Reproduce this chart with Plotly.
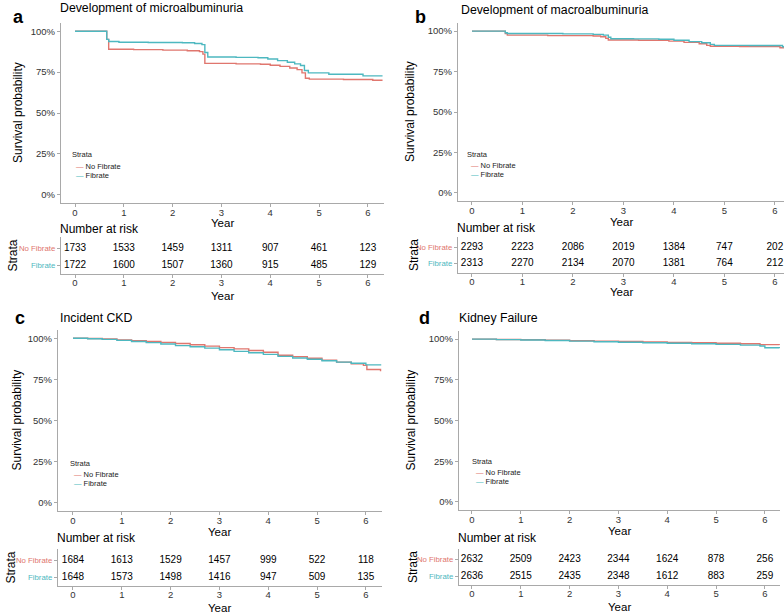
import plotly.graph_objects as go

W, H = 784, 615
RED = "#E0766E"
CYAN = "#4DB8C0"
AXIS = "#a9a9a9"
FONT = "Liberation Sans, Arial, sans-serif"

groups = ["No Fibrate", "Fibrate"]
years = [0, 1, 2, 3, 4, 5, 6]
pct_ticks = [0, 0.25, 0.5, 0.75, 1.0]
pct_labels = ["0%", "25%", "50%", "75%", "100%"]

# --- a: microalbuminuria
a_title = "Development of microalbuminuria"
a_t_nofib = [0, 0.65, 0.69, 1.2, 1.8, 2.3, 2.55, 2.62, 2.66, 3.3, 3.8, 4.0, 4.2, 4.4, 4.55, 4.65, 4.72, 4.8, 5.5, 6.1, 6.3]
a_s_nofib = [1.0, 0.95, 0.89, 0.887, 0.884, 0.88, 0.875, 0.86, 0.803, 0.80, 0.798, 0.792, 0.785, 0.775, 0.765, 0.745, 0.712, 0.707, 0.705, 0.70, 0.70]
a_t_fib = [0, 0.65, 0.69, 0.9, 1.5, 2.2, 2.45, 2.6, 2.66, 2.72, 3.3, 3.75, 3.95, 4.15, 4.35, 4.5, 4.62, 4.7, 4.78, 5.2, 5.9, 6.3]
a_s_fib = [1.0, 0.95, 0.937, 0.932, 0.931, 0.929, 0.925, 0.918, 0.87, 0.842, 0.84, 0.838, 0.83, 0.82, 0.81, 0.80, 0.79, 0.76, 0.745, 0.737, 0.727, 0.727]
a_risk_nofib = [1733, 1533, 1459, 1311, 907, 461, 123]
a_risk_fib = [1722, 1600, 1507, 1360, 915, 485, 129]

# --- b: macroalbuminuria
b_title = "Development of macroalbuminuria"
b_t_nofib = [0, 0.66, 0.7, 1.5, 2.4, 2.55, 2.65, 2.7, 3.3, 3.9, 4.2, 4.5, 4.65, 4.72, 5.3, 6.1, 6.35]
b_s_nofib = [1.0, 0.985, 0.975, 0.972, 0.97, 0.965, 0.955, 0.945, 0.943, 0.938, 0.93, 0.922, 0.912, 0.906, 0.905, 0.897, 0.897]
b_t_fib = [0, 0.66, 0.7, 1.8, 2.4, 2.6, 2.7, 2.75, 3.2, 3.7, 4.0, 4.3, 4.55, 4.72, 4.8, 5.5, 6.15, 6.35]
b_s_fib = [1.0, 0.99, 0.985, 0.983, 0.98, 0.975, 0.962, 0.953, 0.952, 0.95, 0.943, 0.935, 0.928, 0.918, 0.912, 0.911, 0.903, 0.903]
b_risk_nofib = [2293, 2223, 2086, 2019, 1384, 747, 202]
b_risk_fib = [2313, 2270, 2134, 2070, 1381, 764, 212]

# --- c: incident CKD
c_title = "Incident CKD"
c_t_nofib = [0, 0.3, 0.6, 0.9, 1.2, 1.5, 1.8, 2.1, 2.4, 2.7, 3.0, 3.3, 3.6, 3.9, 4.2, 4.5, 4.8, 5.1, 5.4, 5.7, 5.95, 6.02, 6.3]
c_s_nofib = [1.0, 0.998, 0.995, 0.99, 0.985, 0.98, 0.975, 0.968, 0.96, 0.952, 0.943, 0.935, 0.925, 0.915, 0.897, 0.888, 0.878, 0.867, 0.855, 0.845, 0.835, 0.81, 0.80]
c_t_fib = [0, 0.3, 0.6, 0.9, 1.2, 1.5, 1.8, 2.1, 2.4, 2.7, 3.0, 3.3, 3.6, 3.9, 4.2, 4.5, 4.8, 5.1, 5.4, 5.7, 6.0, 6.3]
c_s_fib = [1.0, 0.997, 0.993, 0.987, 0.98, 0.973, 0.965, 0.955, 0.948, 0.94, 0.93, 0.92, 0.912, 0.902, 0.89, 0.88, 0.872, 0.863, 0.855, 0.848, 0.838, 0.835]
c_risk_nofib = [1684, 1613, 1529, 1457, 999, 522, 118]
c_risk_fib = [1648, 1573, 1498, 1416, 947, 509, 135]

# --- d: kidney failure
d_title = "Kidney Failure"
d_t_nofib = [0, 0.5, 1.0, 1.5, 2.0, 2.5, 3.0, 3.5, 4.0, 4.5, 5.0, 5.5, 5.9, 6.3]
d_s_nofib = [1.0, 0.998, 0.996, 0.993, 0.99, 0.988, 0.986, 0.983, 0.98, 0.978, 0.975, 0.972, 0.966, 0.965]
d_t_fib = [0, 0.5, 1.0, 1.5, 2.0, 2.5, 3.0, 3.5, 4.0, 4.5, 5.0, 5.5, 5.9, 6.0, 6.3]
d_s_fib = [1.0, 0.997, 0.995, 0.992, 0.988, 0.984, 0.981, 0.978, 0.975, 0.972, 0.968, 0.963, 0.958, 0.947, 0.945]
d_risk_nofib = [2632, 2509, 2423, 2344, 1624, 878, 256]
d_risk_fib = [2636, 2515, 2435, 2348, 1612, 883, 259]


def px_x(p):
    return p / W


def px_y(p):
    return 1 - p / H


# pixel layout of each panel (left, right, km top/bottom, table top/bottom, x range, table y range)
panels = [
    dict(letter="a", title=a_title, data=(a_t_nofib, a_s_nofib, a_t_fib, a_s_fib), risk=(a_risk_nofib, a_risk_fib),
         left=61, right=384, km=(23, 203), tab=(237, 274), xr=[-0.287, 6.33], tyr=[0.47, 2.65],
         letter_xy=(11, 17), title_xy=(58, 8), ylab_x=18, strata_x=12, legend_xy=(70, 155),
         year1=223, year2=296, nar=229),
    dict(letter="b", title=b_title, data=(b_t_nofib, b_s_nofib, b_t_fib, b_s_fib), risk=(b_risk_nofib, b_risk_fib),
         left=458, right=784, km=(23, 201), tab=(237, 273), xr=[-0.277, 6.18], tyr=[0.375, 2.625],
         letter_xy=(413, 17), title_xy=(459, 10), ylab_x=410, strata_x=414, legend_xy=(465, 154),
         year1=222, year2=292, nar=228),
    dict(letter="c", title=c_title, data=(c_t_nofib, c_s_nofib, c_t_fib, c_s_fib), risk=(c_risk_nofib, c_risk_fib),
         left=58, right=382, km=(330, 511), tab=(549, 586), xr=[-0.307, 6.33], tyr=[0.47, 2.65],
         letter_xy=(13, 318), title_xy=(58, 318), ylab_x=16, strata_x=10, legend_xy=(68, 463),
         year1=532, year2=608, nar=538),
    dict(letter="d", title=d_title, data=(d_t_nofib, d_s_nofib, d_t_fib, d_s_fib), risk=(d_risk_nofib, d_risk_fib),
         left=459, right=780, km=(331, 510), tab=(549, 585), xr=[-0.266, 6.31], tyr=[0.47, 2.59],
         letter_xy=(417, 318), title_xy=(457, 318), ylab_x=410, strata_x=413, legend_xy=(470, 461),
         year1=531, year2=607, nar=538),
]

fig = go.Figure()
annotations = []
axis_common = dict(showgrid=False, zeroline=False, showline=True, linecolor=AXIS, linewidth=1.3,
                   ticks="outside", ticklen=3, tickcolor=AXIS, tickfont=dict(size=9.5, color="#333333", family=FONT))

for i, p in enumerate(panels):
    km_n = 2 * i + 1
    tab_n = 2 * i + 2
    xk, yk = ("x" if km_n == 1 else f"x{km_n}"), ("y" if km_n == 1 else f"y{km_n}")
    xt, yt = f"x{tab_n}", f"y{tab_n}"
    t_nf, s_nf, t_f, s_f = p["data"]
    for t, s, name, col in [(t_nf, s_nf, groups[0], RED), (t_f, s_f, groups[1], CYAN)]:
        fig.add_trace(go.Scatter(x=t, y=s, mode="lines", line=dict(color=col, width=1.4, shape="hv"),
                                 name=name, showlegend=False, xaxis=xk, yaxis=yk))
    r_nf, r_f = p["risk"]
    fig.add_trace(go.Scatter(x=years, y=[2] * len(years), mode="text", text=[str(v) for v in r_nf],
                             textfont=dict(size=10, color="black", family=FONT), showlegend=False,
                             xaxis=xt, yaxis=yt))
    fig.add_trace(go.Scatter(x=years, y=[1] * len(years), mode="text", text=[str(v) for v in r_f],
                             textfont=dict(size=10, color="black", family=FONT), showlegend=False,
                             xaxis=xt, yaxis=yt))

    xdom = [px_x(p["left"]), px_x(p["right"])]
    km_key = "" if km_n == 1 else str(km_n)
    fig.update_layout(**{
        f"xaxis{km_key}": dict(domain=xdom, range=p["xr"], tickvals=years, anchor=yk,
                               ticklabelstandoff=-3, **axis_common),
        f"yaxis{km_key}": dict(domain=[px_y(p["km"][1]), px_y(p["km"][0])], range=[-0.05, 1.05],
                                tickvals=pct_ticks, ticktext=pct_labels, anchor=xk, **axis_common),
        f"xaxis{tab_n}": dict(domain=xdom, range=p["xr"], tickvals=years, anchor=yt,
                              ticklabelstandoff=-4, **axis_common),
        f"yaxis{tab_n}": dict(domain=[px_y(p["tab"][1]), px_y(p["tab"][0])], range=p["tyr"],
                               tickvals=[2, 1],
                               ticktext=[f"<span style='color:{RED}'>{groups[0]}</span>",
                                         f"<span style='color:{CYAN}'>{groups[1]}</span>"],
                               anchor=xt, **{**axis_common, "tickfont": dict(size=7.8, family=FONT)}),
    })

    # panel letter and title
    annotations.append(dict(text=f"<b>{p['letter']}</b>", x=px_x(p["letter_xy"][0]), y=px_y(p["letter_xy"][1]),
                            xanchor="left", yanchor="middle", font=dict(size=18, color="black", family=FONT)))
    annotations.append(dict(text=p["title"], x=px_x(p["title_xy"][0]), y=px_y(p["title_xy"][1]),
                            xanchor="left", yanchor="middle", font=dict(size=12.3, color="black", family=FONT)))
    # axis titles
    xmid = px_x((p["left"] + p["right"]) / 2)
    for yy in (p["year1"], p["year2"]):
        annotations.append(dict(text="Year", x=xmid, y=px_y(yy), xanchor="center", yanchor="middle",
                                font=dict(size=11.5, color="black", family=FONT)))
    annotations.append(dict(text="Survival probability", x=px_x(p["ylab_x"]),
                            y=px_y((p["km"][0] + p["km"][1]) / 2), textangle=-90, xanchor="center",
                            yanchor="middle", font=dict(size=12, color="black", family=FONT)))
    annotations.append(dict(text="Strata", x=px_x(p["strata_x"]), y=px_y((p["tab"][0] + p["tab"][1]) / 2),
                            textangle=-90, xanchor="center", yanchor="middle",
                            font=dict(size=12, color="black", family=FONT)))
    annotations.append(dict(text="Number at risk", x=px_x(p["left"] - 3), y=px_y(p["nar"]), xanchor="left",
                            yanchor="middle", font=dict(size=12, color="black", family=FONT)))
    # legend
    lx, ly = p["legend_xy"]
    annotations.append(dict(text="Strata", x=px_x(lx), y=px_y(ly), xanchor="left", yanchor="middle",
                            font=dict(size=7.5, color="#222222", family=FONT)))
    for k, (name, col) in enumerate([(groups[0], RED), (groups[1], CYAN)]):
        annotations.append(dict(text=f"<span style='color:{col}'>\u2014</span> {name}", x=px_x(lx + 4),
                                y=px_y(ly + 11 + 9 * k), xanchor="left", yanchor="middle",
                                font=dict(size=7.5, color="#222222", family=FONT)))

for a in annotations:
    a.update(xref="paper", yref="paper", showarrow=False)

fig.update_layout(
    width=W, height=H,
    margin=dict(l=0, r=0, t=0, b=0),
    plot_bgcolor="white", paper_bgcolor="white",
    font=dict(family=FONT),
    annotations=annotations,
    showlegend=False,
)

fig.write_html("out.html", config={"displayModeBar": False},
               post_script="document.body.style.margin='0';")
